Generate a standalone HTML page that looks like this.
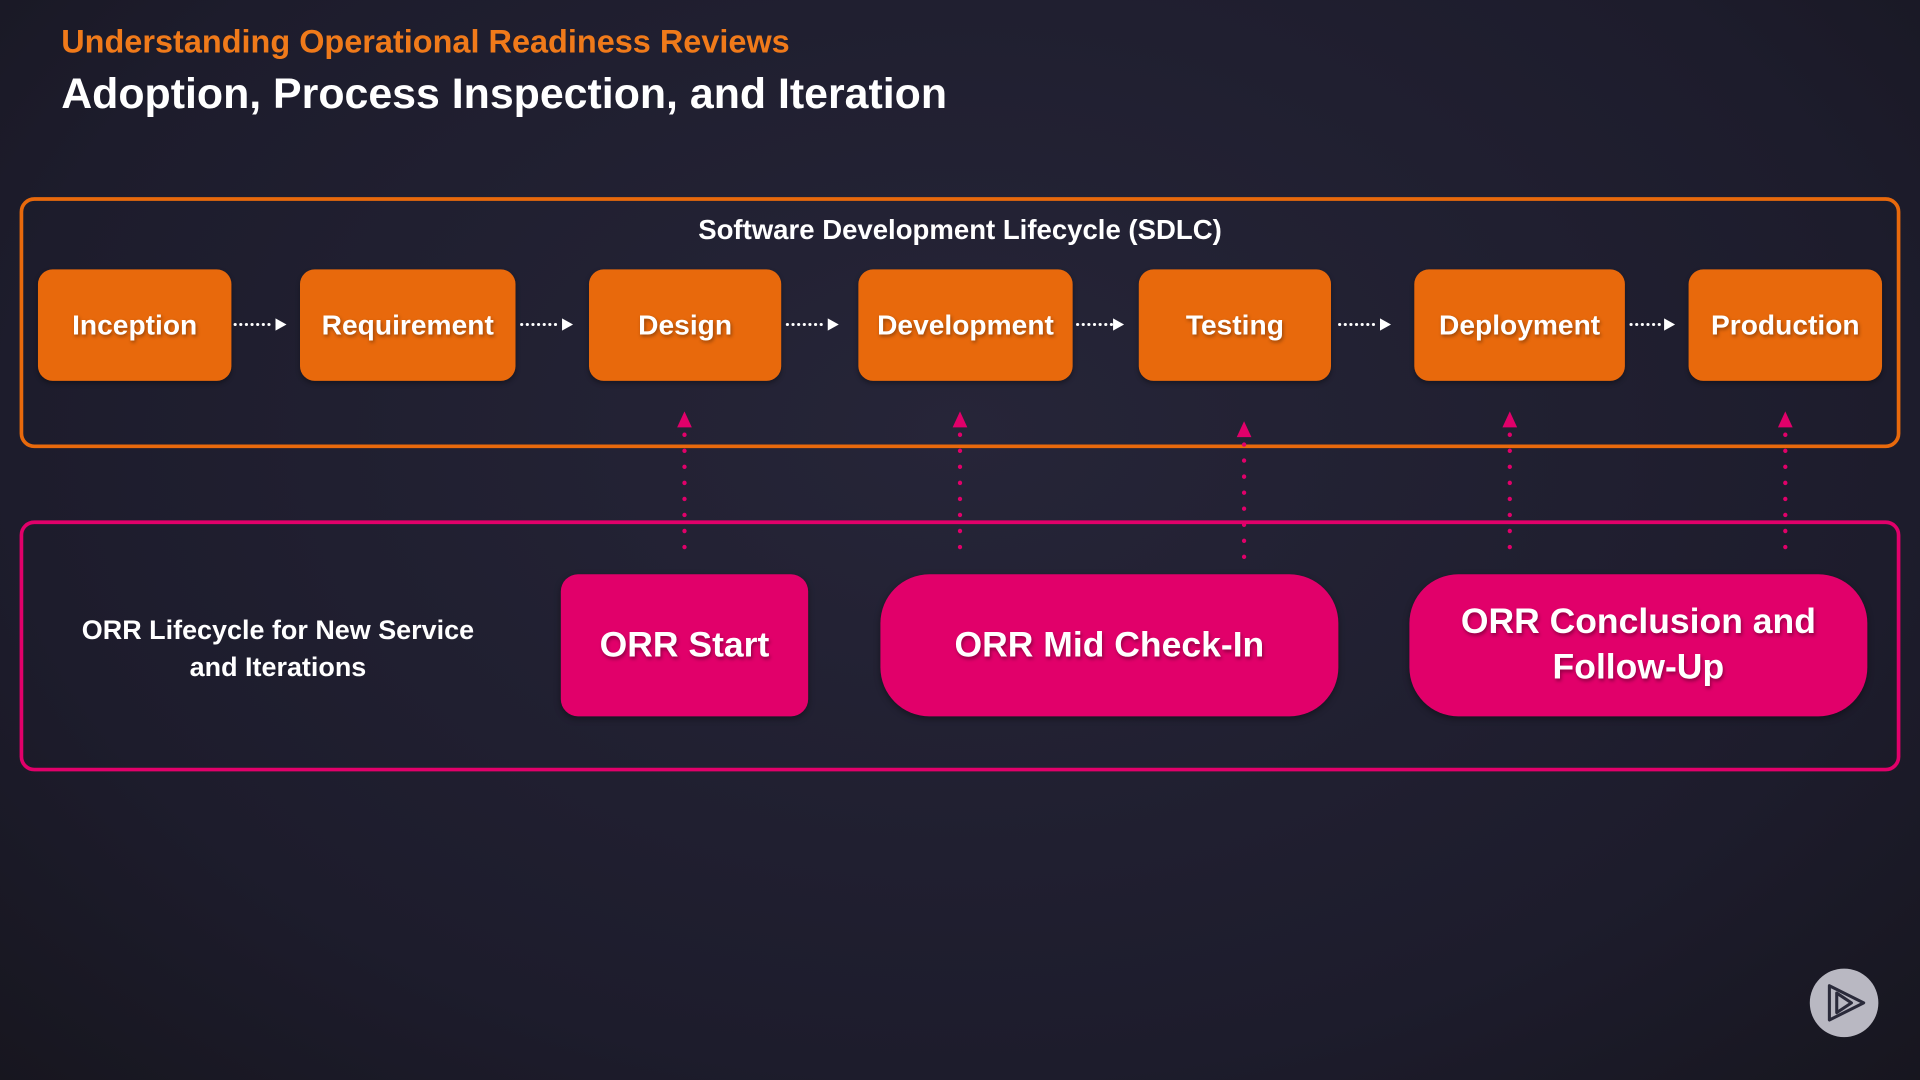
<!DOCTYPE html>
<html><head><style>
html,body{margin:0;padding:0;width:1920px;height:1080px;overflow:hidden;background:#1f1e2e;}
#s{position:absolute;left:0;top:0;width:1568px;height:882px;transform:scale(1.22449);transform-origin:0 0;font-family:"Liberation Sans",sans-serif;font-weight:bold;color:#fff;
background:radial-gradient(ellipse at 50% 40%,#262538 0%,#1d1c2c 70%,#17161f 100%);}
.a{position:absolute;}
.ob{position:absolute;top:220px;height:91px;background:#e8690c;border-radius:12px;display:flex;align-items:center;justify-content:center;font-size:23px;text-shadow:1px 2px 3px rgba(0,0,0,.35);box-shadow:0 2px 4px rgba(0,0,0,.3);}
.pb{position:absolute;top:469px;height:116px;background:#e1006a;display:flex;align-items:center;justify-content:center;text-align:center;font-size:29px;line-height:37px;text-shadow:1px 2px 3px rgba(0,0,0,.35);box-shadow:0 2px 5px rgba(0,0,0,.35);}
</style></head><body><div id="s">
<div class="a" style="left:50px;top:19px;font-size:26.5px;color:#f07a1a;">Understanding Operational Readiness Reviews</div>
<div class="a" style="left:50px;top:57px;font-size:35px;">Adoption, Process Inspection, and Iteration</div>
<div class="a" style="left:16px;top:161px;width:1530px;height:199px;border:3px solid #e8690c;border-radius:12px;"></div>
<div class="a" style="left:0;width:1568px;top:175px;text-align:center;font-size:22.5px;">Software Development Lifecycle (SDLC)</div>
<div class="ob" style="left:31px;width:158px;">Inception</div>
<div class="ob" style="left:245px;width:176px;">Requirement</div>
<div class="ob" style="left:481px;width:157px;">Design</div>
<div class="ob" style="left:701px;width:175px;">Development</div>
<div class="ob" style="left:930px;width:157px;">Testing</div>
<div class="ob" style="left:1155px;width:172px;">Deployment</div>
<div class="ob" style="left:1379px;width:158px;">Production</div>
<div class="a" style="left:16px;top:425px;width:1530px;height:199px;border:3px solid #e1006a;border-radius:12px;"></div>
<div class="a" style="left:37px;width:380px;top:500px;text-align:center;font-size:22px;line-height:30px;">ORR Lifecycle for New Service<br>and Iterations</div>
<div class="pb" style="left:458px;width:202px;border-radius:14px;">ORR Start</div>
<div class="pb" style="left:719px;width:374px;border-radius:40px;">ORR Mid Check-In</div>
<div class="pb" style="left:1151px;width:374px;border-radius:40px;">ORR Conclusion and<br>Follow-Up</div>
<svg class="a" style="left:0;top:0" width="1568" height="882">
<g stroke="#fff" stroke-width="2.5" stroke-dasharray="0.1 4.5" stroke-linecap="round" fill="none">
<line x1="192" y1="265" x2="224" y2="265"/><line x1="426" y1="265" x2="458" y2="265"/>
<line x1="643" y1="265" x2="675" y2="265"/><line x1="880" y1="265" x2="908" y2="265"/>
<line x1="1094" y1="265" x2="1126" y2="265"/><line x1="1332" y1="265" x2="1358" y2="265"/>
</g>
<g fill="#fff">
<polygon points="225,260 234,265 225,270"/><polygon points="459,260 468,265 459,270"/>
<polygon points="676,260 685,265 676,270"/><polygon points="909,260 918,265 909,270"/>
<polygon points="1127,260 1136,265 1127,270"/><polygon points="1359,260 1368,265 1359,270"/>
</g>
<g stroke="#e1006a" stroke-width="3.5" stroke-dasharray="0.1 13" stroke-linecap="round" fill="none">
<line x1="559" y1="355" x2="559" y2="448"/><line x1="784" y1="355" x2="784" y2="448"/>
<line x1="1016" y1="363" x2="1016" y2="456"/><line x1="1233" y1="355" x2="1233" y2="448"/>
<line x1="1458" y1="355" x2="1458" y2="448"/>
</g>
<g fill="#e1006a">
<polygon points="559,336 553,349 565,349"/><polygon points="784,336 778,349 790,349"/>
<polygon points="1016,344 1010,357 1022,357"/><polygon points="1233,336 1227,349 1239,349"/>
<polygon points="1458,336 1452,349 1464,349"/>
</g>
<circle cx="1506" cy="819" r="28" fill="#b9b8c2"/>
<g fill="none" stroke="#2a2a3a" stroke-width="2.5" stroke-linejoin="round">
<polygon points="1494,805 1522,819 1494,833"/><polygon points="1500,811 1512,819 1500,827"/>
</g>
</svg>
</div></body></html>
